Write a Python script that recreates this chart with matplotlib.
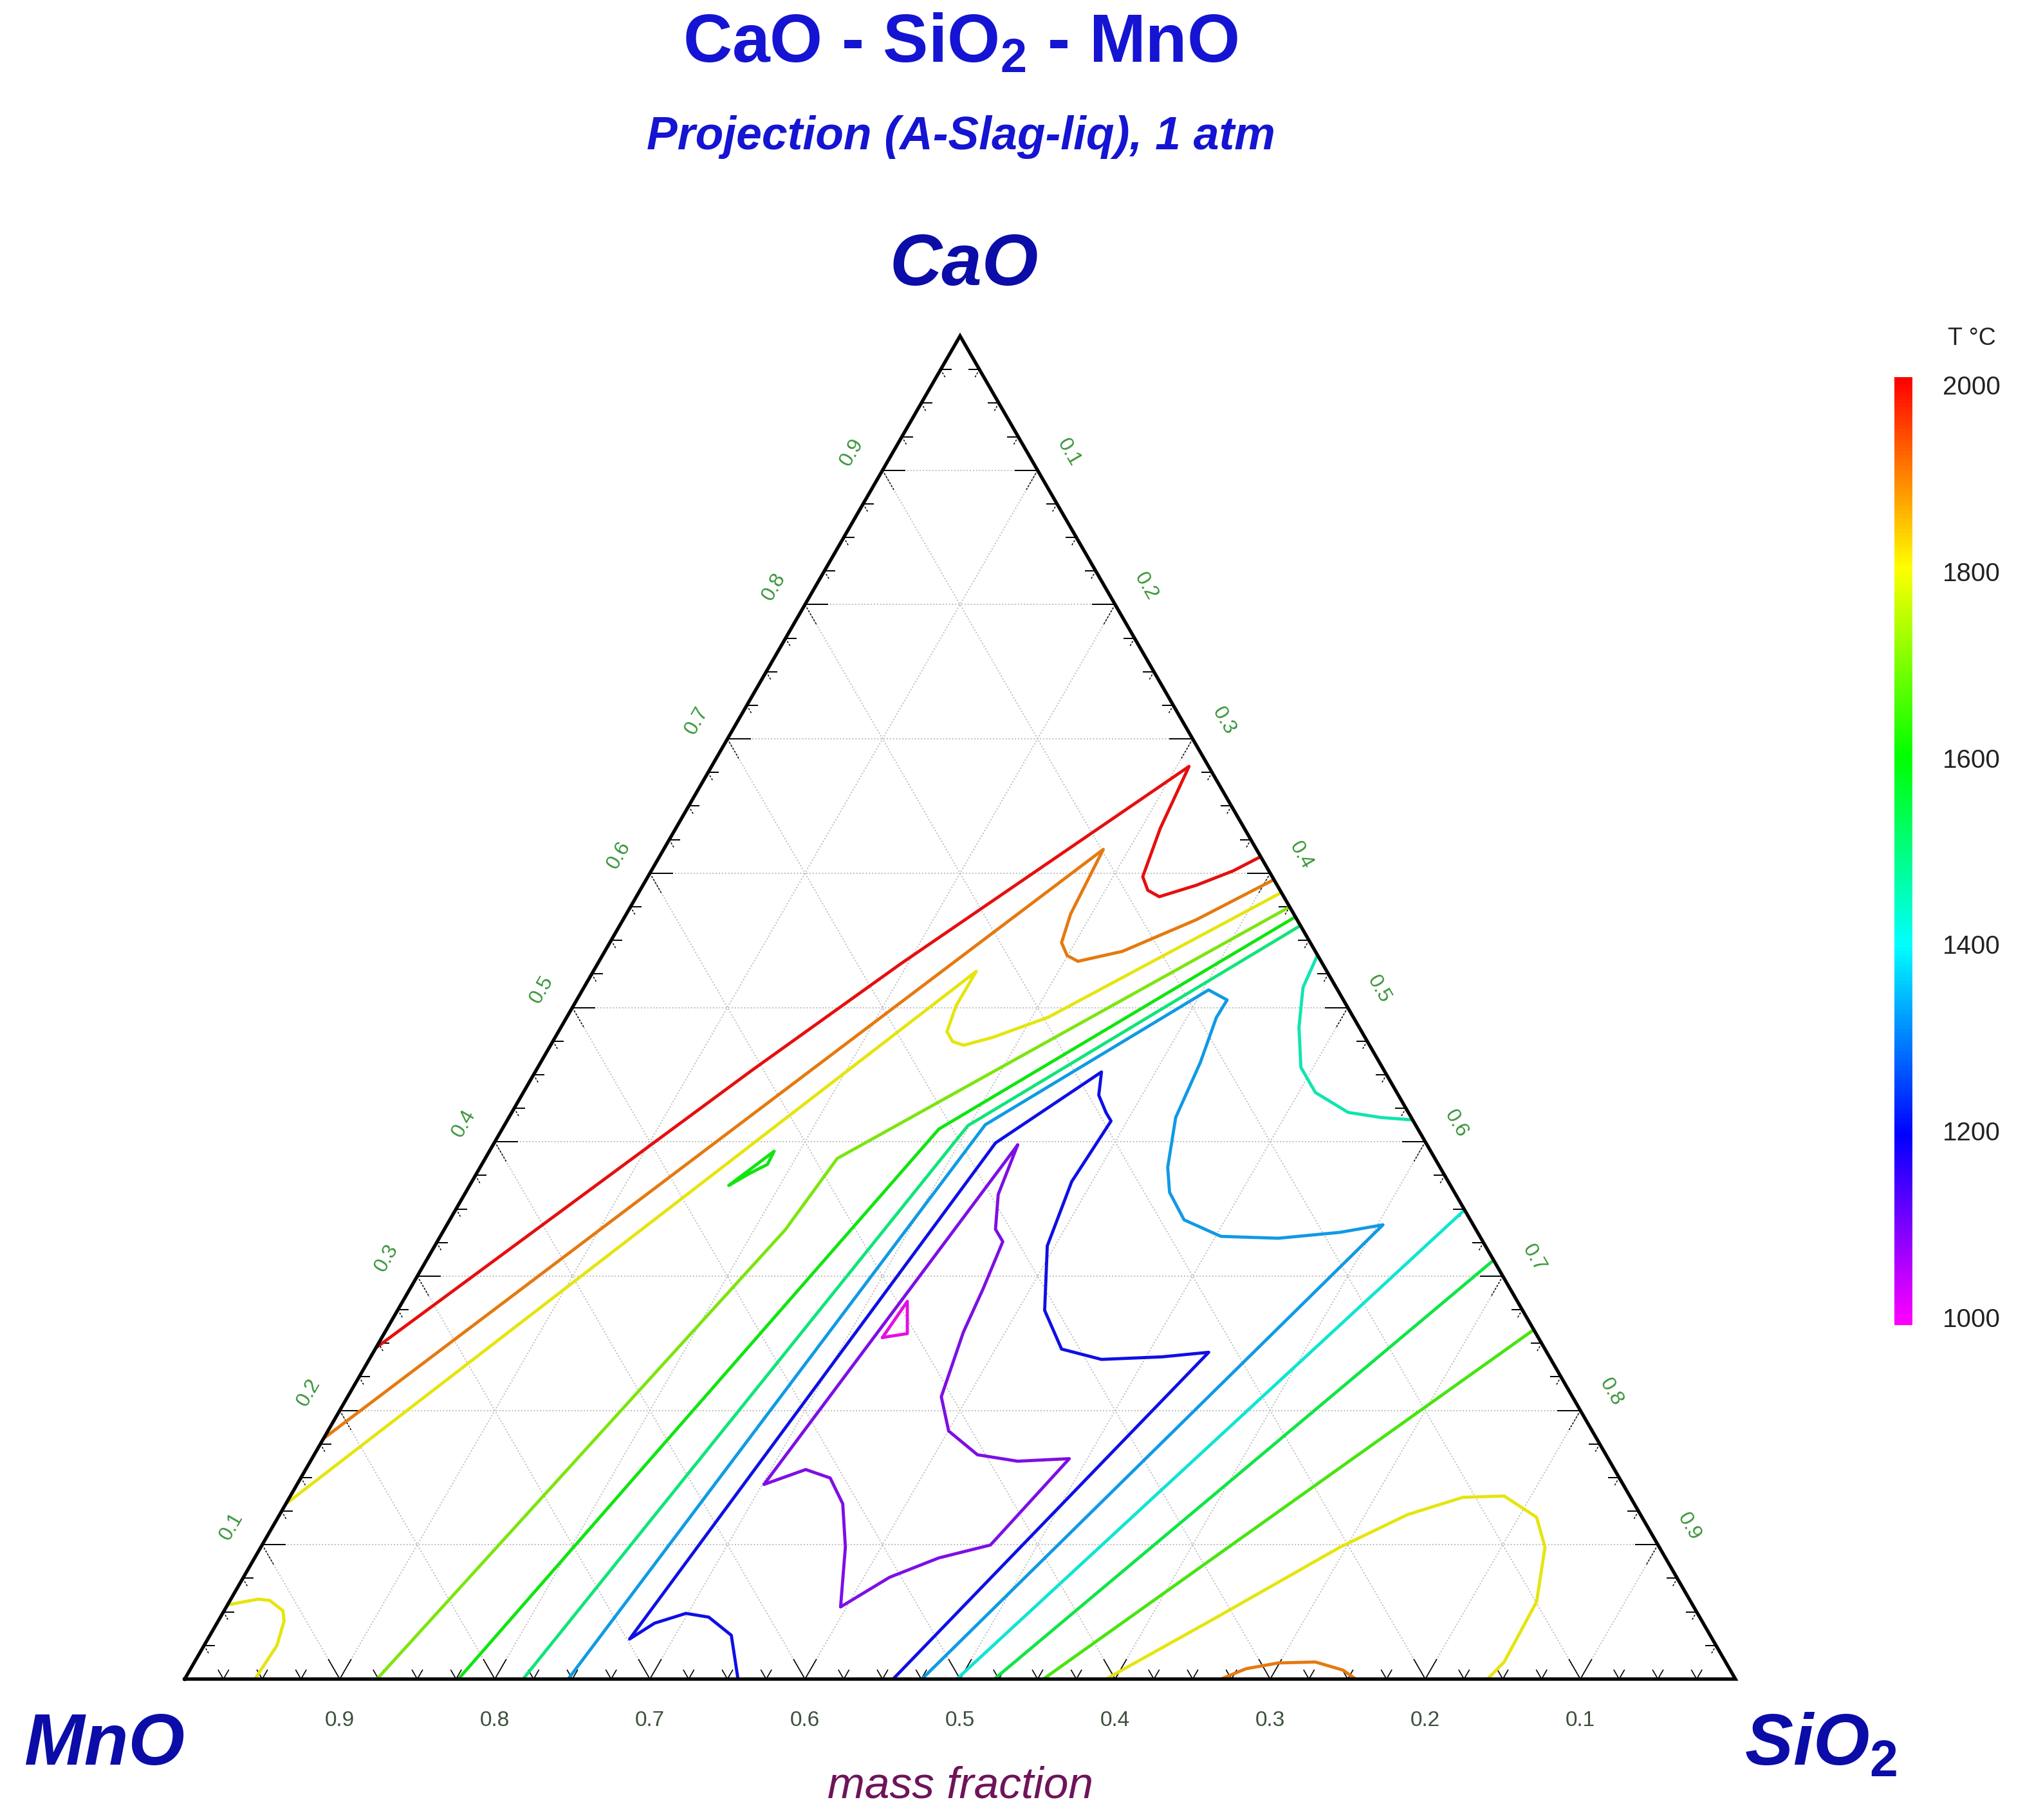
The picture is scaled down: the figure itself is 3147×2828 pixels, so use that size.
import numpy as np
import matplotlib
matplotlib.use("Agg")
import matplotlib.pyplot as plt
from matplotlib.colors import LinearSegmentedColormap, Normalize
from matplotlib.cm import ScalarMappable

plt.rcParams['font.family'] = ['Liberation Sans', 'DejaVu Sans']
plt.rcParams['mathtext.fontset'] = 'custom'
plt.rcParams['mathtext.rm'] = 'Liberation Sans'
plt.rcParams['mathtext.bf'] = 'Liberation Sans:bold'
plt.rcParams['mathtext.it'] = 'Liberation Sans:italic'

W, H, DPI = 3147, 2828, 100

# isotherms of the liquidus projection, each point is (SiO2, CaO) mass fraction, MnO is the rest
iso_2000 = [(0.0, 0.2466), (0.139, 0.453), (0.1955, 0.5326), (0.3079, 0.6795), (0.3124, 0.6334),
            (0.3191, 0.5974), (0.3274, 0.5873), (0.3372, 0.5825), (0.3568, 0.591), (0.3752, 0.6017),
            (0.3877, 0.6123)]
iso_1900 = [(0.0, 0.1791), (0.2835, 0.6177), (0.2865, 0.5696), (0.2913, 0.5483), (0.2997, 0.5387),
            (0.3088, 0.5344), (0.3338, 0.5418), (0.3696, 0.5653), (0.4048, 0.5952)]
iso_1900_b = [(0.6682, 0.0), (0.6806, 0.0077), (0.6992, 0.012), (0.7228, 0.0127), (0.7435, 0.0067),
              (0.7552, 0.0)]
iso_1800 = [(0.0, 0.1303), (0.247, 0.5269), (0.2468, 0.5013), (0.2505, 0.4821), (0.2578, 0.4747),
            (0.2663, 0.4719), (0.2823, 0.4778), (0.3106, 0.4928), (0.4144, 0.5856)]
iso_1800_b = [(0.0, 0.0552), (0.0177, 0.0595), (0.0257, 0.0585), (0.0379, 0.0509), (0.0425, 0.0432),
              (0.047, 0.025), (0.0453, 0.0)]
iso_1800_c = [(0.5941, 0.0), (0.6426, 0.0461), (0.6959, 0.0982), (0.7273, 0.1224), (0.7566, 0.1353),
              (0.7827, 0.1363), (0.8115, 0.1205), (0.8281, 0.0982), (0.843, 0.0576), (0.8445, 0.0127),
              (0.8401, 0.0)]
iso_1700 = [(0.124, 0.0), (0.22, 0.3344), (0.227, 0.3876), (0.4251, 0.5749)]
iso_1650 = [(0.5537, 0.0), (0.7399, 0.2601)]
iso_1600 = [(0.1765, 0.0), (0.2816, 0.4095), (0.4325, 0.5675)]
iso_1600_b = [(0.1672, 0.3676), (0.1836, 0.393), (0.1842, 0.3832), (0.1758, 0.3762), (0.1672, 0.3676)]
iso_1550 = [(0.5221, 0.0), (0.6881, 0.3119)]
iso_1500 = [(0.2182, 0.0), (0.299, 0.412), (0.439, 0.561)]
iso_1420 = [(0.4979, 0.0), (0.6507, 0.3493)]
iso_1450 = [(0.461, 0.539), (0.4637, 0.5149), (0.476, 0.4851), (0.4921, 0.4554), (0.5108, 0.4367),
            (0.5393, 0.4219), (0.5623, 0.4181), (0.5837, 0.4163)]
iso_1330 = [(0.2473, 0.0), (0.3099, 0.4127), (0.4037, 0.5131), (0.4194, 0.5056), (0.419, 0.4925),
            (0.4254, 0.4591), (0.43, 0.4181), (0.4434, 0.381), (0.4539, 0.3624), (0.4735, 0.3419),
            (0.5034, 0.3296), (0.5411, 0.3282), (0.5787, 0.3326), (0.6036, 0.3382), (0.4754, 0.0)]
iso_1200 = [(0.3568, 0.0), (0.3362, 0.0326), (0.3149, 0.0461), (0.2988, 0.0489), (0.2822, 0.0416),
            (0.272, 0.0298), (0.3233, 0.3992), (0.3652, 0.452), (0.3721, 0.4347), (0.3833, 0.4217),
            (0.3896, 0.4155), (0.3868, 0.3704), (0.395, 0.3225), (0.4173, 0.2745), (0.4426, 0.2457),
            (0.4722, 0.238), (0.5103, 0.2399), (0.5387, 0.2433), (0.4568, 0.0)]
iso_1100 = [(0.3383, 0.3977), (0.3442, 0.3608), (0.3554, 0.3349), (0.3647, 0.3257), (0.3696, 0.2904),
            (0.373, 0.2582), (0.3828, 0.2102), (0.4003, 0.1847), (0.4277, 0.167), (0.456, 0.1622),
            (0.4884, 0.1641), (0.4697, 0.0998), (0.4412, 0.0902), (0.4167, 0.0758), (0.3961, 0.0537),
            (0.3769, 0.0983), (0.3591, 0.1305), (0.3414, 0.1497), (0.3225, 0.156), (0.3011, 0.1449),
            (0.3383, 0.3977)]
iso_1000 = [(0.3228, 0.2543), (0.3254, 0.2812), (0.3374, 0.2572), (0.3228, 0.2543)]

isotherms = [(2000, iso_2000), (1900, iso_1900), (1900, iso_1900_b), (1800, iso_1800),
             (1800, iso_1800_b), (1800, iso_1800_c), (1700, iso_1700), (1650, iso_1650),
             (1600, iso_1600), (1600, iso_1600_b), (1550, iso_1550), (1500, iso_1500),
             (1420, iso_1420), (1450, iso_1450), (1330, iso_1330), (1200, iso_1200),
             (1100, iso_1100), (1000, iso_1000)]

grid_vals = [0.1, 0.2, 0.3, 0.4, 0.5, 0.6, 0.7, 0.8, 0.9]
tick_labels = ['0.1', '0.2', '0.3', '0.4', '0.5', '0.6', '0.7', '0.8', '0.9']
cbar_ticks = [1000, 1200, 1400, 1600, 1800, 2000]

# hue ramp used for the temperature scale
temp_colors = ['#ff00ff', '#8000ff', '#0000ff', '#0080ff', '#00ffff', '#00ff80',
               '#00ff00', '#80ff00', '#ffff00', '#ff8000', '#ff0000']
cmap = LinearSegmentedColormap.from_list('temp', temp_colors)
norm = Normalize(1000, 2000)

SQ = np.sqrt(3) / 2


def tern(s, c):
    s = np.asarray(s, float)
    c = np.asarray(c, float)
    return s + c / 2, c * SQ


fig = plt.figure(figsize=(W / DPI, H / DPI), dpi=DPI)
ax = fig.add_axes([287 / W, (H - 2609) / H, 2410 / W, 2087 / H])
ax.set_xlim(0, 1)
ax.set_ylim(0, SQ)
ax.axis('off')

# dotted grid
for v in grid_vals:
    for (s0, c0), (s1, c1) in [((0, v), (1 - v, v)), ((v, 0), (v, 1 - v)), ((1 - v, 0), (0, 1 - v))]:
        x, y = tern([s0, s1], [c0, c1])
        ax.plot(x, y, color='#bdbdbd', lw=1.4, ls=(0, (1, 1.5)), zorder=1)

# ticks every 0.025
px = 1 / 2410
for i in range(1, 40):
    v = i * 0.025
    L = (35 if i % 4 == 0 else 16) * px
    # bottom edge: V shape
    x0, y0 = tern(v, 0)
    for dx in (0.5, -0.5):
        ax.plot([x0, x0 + dx * L], [y0, y0 + SQ * L], color='k', lw=1.2, zorder=3)
    # left edge
    x0, y0 = tern(0, v)
    ax.plot([x0, x0 + L], [y0, y0], color='k', lw=1.4, zorder=3)
    ax.plot([x0, x0 + 0.5 * L], [y0, y0 - SQ * L], color='k', lw=1.1, ls=(0, (2, 1.5)), zorder=3)
    # right edge
    x0, y0 = tern(1 - v, v)
    ax.plot([x0, x0 - L], [y0, y0], color='k', lw=1.4, zorder=3)
    ax.plot([x0, x0 - 0.5 * L], [y0, y0 - SQ * L], color='k', lw=1.1, ls=(0, (2, 1.5)), zorder=3)

# isotherms
for T, pts in isotherms:
    s, c = zip(*pts)
    x, y = tern(s, c)
    col = np.array(cmap(norm(T))[:3]) * 0.84 + 0.06
    ax.plot(x, y, color=col, lw=3.5, solid_joinstyle='round', solid_capstyle='round', zorder=4)

# frame
fx, fy = tern([0, 1, 0, 0], [0, 0, 1, 0])
ax.plot(fx, fy, color='k', lw=3.8, solid_joinstyle='miter', zorder=5, clip_on=False)

# tick labels
for v, lab in zip(grid_vals, tick_labels):
    ax.annotate(lab, tern(0, v), xytext=(-48, 28), textcoords='offset pixels', rotation=60,
                ha='center', va='center', rotation_mode='anchor', fontsize=23, color='#379437')
    ax.annotate(lab, tern(v, 1 - v), xytext=(48, 28), textcoords='offset pixels', rotation=-60,
                ha='center', va='center', rotation_mode='anchor', fontsize=23, color='#379437')
    ax.annotate(lab, tern(1 - v, 0), xytext=(0, -64), textcoords='offset pixels',
                ha='center', va='center', fontsize=24, color='#3c503c')

# titles and corner labels
title_col = '#1414d2'
lab_col = '#0c0ca8'
fig.text(1492 / W, 1 - 96 / H, r'CaO - SiO$_\mathbf{2}$ - MnO', ha='center', va='baseline',
         fontsize=76, fontweight='bold', color=title_col)
fig.text(1493 / W, 1 - 232 / H, 'Projection (A-Slag-liq), 1 atm', ha='center', va='baseline',
         fontsize=51.5, fontweight='bold', fontstyle='italic', color=title_col)
fig.text(1498 / W, 1 - 443 / H, 'CaO', ha='center', va='baseline', fontsize=81,
         fontweight='bold', fontstyle='italic', color=lab_col)
fig.text(162 / W, 1 - 2742 / H, 'MnO', ha='center', va='baseline', fontsize=81,
         fontweight='bold', fontstyle='italic', color=lab_col)
fig.text(2830 / W, 1 - 2742 / H, r'SiO$_\mathbf{2}$', ha='center', va='baseline', fontsize=81,
         fontweight='bold', fontstyle='italic', color=lab_col)
fig.text(1493 / W, 1 - 2794 / H, 'mass fraction', ha='center', va='baseline', fontsize=50,
         fontstyle='italic', color='#6e145a')

# colour scale (bar runs a little past the end labels, as in the original)
cax = fig.add_axes([2944 / W, 1 - 2059 / H, 28 / W, (2059 - 586) / H])
bar_norm = Normalize(1000 - 8.5, 2000 + 8.5)
cb = fig.colorbar(ScalarMappable(norm=bar_norm, cmap=cmap), cax=cax, ticks=cbar_ticks)
cb.outline.set_visible(False)
cax.tick_params(length=0, pad=34, labelsize=29, colors='#222222')
fig.text(3064 / W, 1 - 526 / H, 'T °C', ha='center', va='center', fontsize=27, color='#222222')

fig.savefig('out.png', dpi=DPI, facecolor='white')
